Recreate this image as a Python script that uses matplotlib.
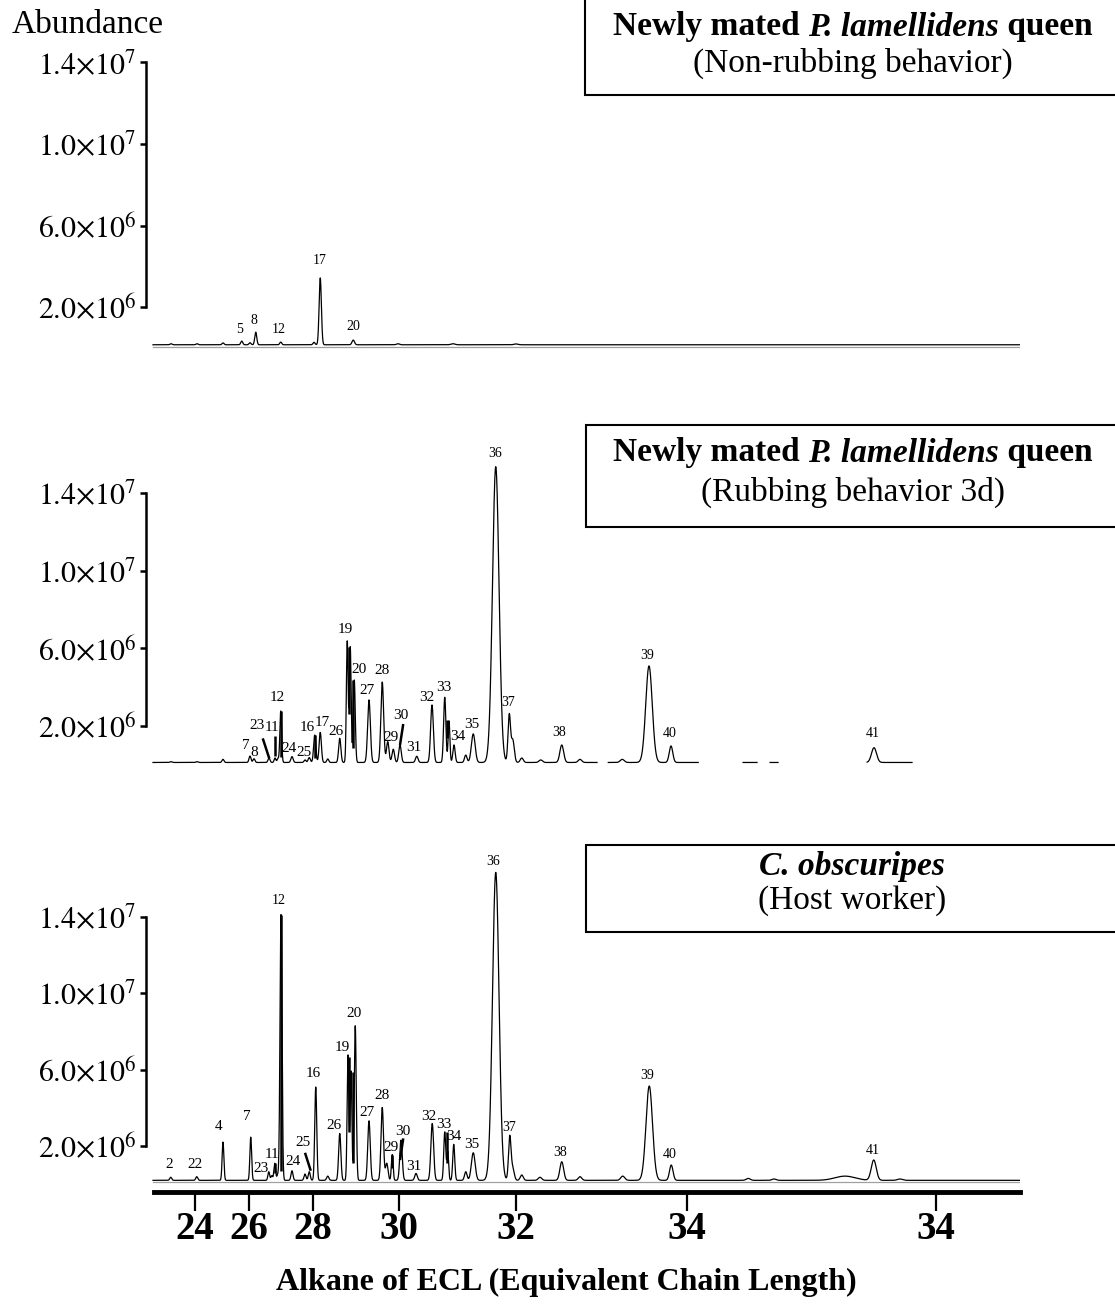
import matplotlib.pyplot as plt
import numpy as np
from matplotlib.patches import Rectangle

plt.rcParams["font.family"] = ["Liberation Serif", "DejaVu Serif"]
plt.rcParams["mathtext.fontset"] = "stix"

# retention position (arbitrary min) and apex abundance (x1e6) of each peak
top_rt = [6.84, 7.88, 8.92, 9.67, 10.0, 10.23, 11.23, 12.56, 12.81, 14.13, 15.92, 18.12, 20.64]
top_abund = [0.2, 0.2, 0.24, 0.33, 0.25, 0.77, 0.28, 0.27, 3.43, 0.38, 0.2, 0.2, 0.19]
top_width = [0.04, 0.04, 0.04, 0.04, 0.04, 0.04, 0.04, 0.04, 0.045, 0.05, 0.06, 0.08, 0.08]
top_base = 0.15

mid_rt = [6.84, 7.88, 8.92, 10.0, 10.16, 10.76, 11.0, 11.12, 11.23, 11.68, 12.2, 12.37,
          12.59, 12.81, 13.11, 13.59, 13.89, 14.01, 14.17, 14.76, 15.29, 15.51, 15.73,
          16.0, 16.67, 17.28, 17.79, 17.96, 18.16, 18.63, 18.93, 19.83, 20.37, 20.51,
          20.87, 21.63, 22.47, 23.2, 24.89, 25.96, 26.84, 34.96]
mid_abund = [0.16, 0.16, 0.28, 0.45, 0.31, 0.35, 0.35, 0.32, 2.77, 0.42, 0.25, 0.37,
             1.53, 1.67, 0.3, 1.36, 6.37, 6.07, 4.37, 3.34, 4.26, 1.19, 0.8,
             1.02, 0.44, 3.08, 3.48, 2.26, 1.02, 0.5, 1.59, 15.35, 2.56, 1.28,
             0.35, 0.25, 1.02, 0.28, 0.28, 5.09, 0.97, 0.88]
mid_width = [0.04, 0.04, 0.04, 0.04, 0.04, 0.04, 0.035, 0.035, 0.035, 0.045, 0.04, 0.045,
             0.045, 0.045, 0.04, 0.045, 0.035, 0.035, 0.04, 0.055, 0.055, 0.05, 0.05,
             0.05, 0.05, 0.055, 0.045, 0.035, 0.045, 0.05, 0.075, 0.13, 0.05, 0.06,
             0.06, 0.07, 0.075, 0.07, 0.08, 0.13, 0.07, 0.1]
mid_base = 0.12
mid_segments = [(6.12, 23.88), (24.33, 27.93), (29.72, 30.28), (30.8, 31.12), (34.68, 36.48)]

host_rt = [6.83, 7.87, 8.92, 10.03, 10.75, 10.87, 10.99, 11.11, 11.24, 11.68, 12.2, 12.37,
           12.63, 13.11, 13.59, 13.92, 14.04, 14.21, 14.76, 15.29, 15.47, 15.69, 16.04,
           16.64, 17.29, 17.79, 17.91, 18.15, 18.63, 18.93, 19.83, 20.39, 20.51, 20.87,
           21.6, 22.47, 23.2, 24.91, 25.97, 26.85, 29.93, 30.96, 33.8, 34.95, 36.0]
host_abund = [0.37, 0.4, 2.21, 2.47, 0.66, 0.45, 1.1, 0.5, 14.1, 0.71, 0.54, 0.66,
              5.09, 0.43, 2.66, 6.75, 5.91, 8.3, 3.32, 4.02, 1.1, 1.56, 2.31,
              0.57, 3.18, 2.74, 1.7, 2.09, 0.66, 1.65, 16.31, 2.48, 0.83, 0.49,
              0.37, 1.18, 0.4, 0.43, 5.14, 1.01, 0.31, 0.28, 0.43, 1.27, 0.28]
host_width = [0.04, 0.04, 0.035, 0.035, 0.035, 0.035, 0.035, 0.035, 0.04, 0.04, 0.04, 0.04,
              0.04, 0.045, 0.045, 0.035, 0.035, 0.04, 0.05, 0.05, 0.05, 0.035, 0.05,
              0.05, 0.055, 0.04, 0.035, 0.04, 0.05, 0.075, 0.13, 0.05, 0.06, 0.06,
              0.07, 0.075, 0.07, 0.08, 0.13, 0.07, 0.08, 0.08, 0.4, 0.1, 0.1]
host_base = 0.21

# peak labels: (text, rt, abundance, fontsize)
top_labels = [("5", 9.57, 0.91, 10), ("8", 10.17, 1.36, 10), ("12", 11.13, 0.92, 10),
              ("17", 12.77, 4.27, 10), ("20", 14.13, 1.07, 10)]
mid_labels = [("7", 9.83, 0.97, 11), ("8", 10.17, 0.61, 11), ("23", 10.27, 2.0, 11),
              ("11", 10.88, 1.93, 11), ("12", 11.11, 3.48, 11), ("24", 11.57, 0.85, 11),
              ("25", 12.15, 0.62, 11), ("16", 12.28, 1.93, 11), ("17", 12.89, 2.19, 11),
              ("26", 13.44, 1.7, 11), ("19", 13.8, 6.94, 11), ("20", 14.36, 4.92, 11),
              ("27", 14.69, 3.8, 11), ("28", 15.29, 4.85, 11), ("29", 15.64, 1.42, 11),
              ("30", 16.04, 2.56, 11), ("31", 16.57, 0.9, 11), ("32", 17.07, 3.48, 11),
              ("33", 17.77, 3.97, 11), ("34", 18.33, 1.45, 11), ("35", 18.89, 2.05, 11),
              ("36", 19.8, 16.0, 10), ("37", 20.33, 3.2, 10), ("38", 22.37, 1.65, 10),
              ("39", 25.87, 5.65, 10), ("40", 26.8, 1.62, 10), ("41", 34.91, 1.62, 10)]
host_labels = [("2", 6.77, 1.06, 11), ("22", 7.8, 1.06, 11), ("4", 8.73, 3.0, 11),
               ("7", 9.87, 3.56, 11), ("23", 10.43, 0.83, 11), ("11", 10.89, 1.56, 11),
               ("12", 11.16, 14.83, 10), ("24", 11.71, 1.22, 11), ("25", 12.11, 2.19, 11),
               ("16", 12.53, 5.79, 11), ("26", 13.36, 3.08, 11), ("19", 13.71, 7.15, 11),
               ("20", 14.16, 8.93, 11), ("27", 14.69, 3.74, 11), ("28", 15.29, 4.66, 11),
               ("29", 15.63, 1.93, 11), ("30", 16.13, 2.78, 11), ("31", 16.57, 0.95, 11),
               ("32", 17.15, 3.56, 11), ("33", 17.76, 3.13, 11), ("34", 18.16, 2.48, 11),
               ("35", 18.89, 2.09, 11), ("36", 19.73, 16.88, 10), ("37", 20.37, 2.97, 10),
               ("38", 22.4, 1.67, 10), ("39", 25.88, 5.7, 10), ("40", 26.8, 1.58, 10),
               ("41", 34.91, 1.75, 10)]

# thick marker lines: (rt0, ab0, rt1, ab1)
mid_leaders = [(10.51, 1.36, 10.77, 0.33), (11.0, 1.48, 11.0, 0.45), (11.23, 2.77, 11.23, 0.4),
               (12.59, 1.53, 12.59, 0.35), (13.96, 6.08, 13.96, 2.6), (14.11, 4.37, 14.11, 0.88),
               (16.13, 2.1, 16.0, 1.02), (17.87, 2.31, 17.87, 1.36)]
host_leaders = [(12.2, 1.65, 12.43, 0.71), (13.97, 6.66, 13.97, 2.74), (14.11, 5.87, 14.11, 1.1),
                (15.69, 1.56, 15.69, 0.83), (16.13, 2.4, 16.0, 1.27), (17.87, 2.74, 17.87, 1.1),
                (10.99, 1.1, 10.99, 0.59), (11.24, 14.1, 11.24, 0.7)]

ytick_vals = [2, 6, 10, 14]
ytick_text = [r"$2.0{\times}10^{6}$", r"$6.0{\times}10^{6}$",
              r"$1.0{\times}10^{7}$", r"$1.4{\times}10^{7}$"]
ecl_pos = [7.8, 9.96, 12.52, 15.94, 20.64, 27.48, 37.44]
ecl_text = ["24", "26", "28", "30", "32", "34", "34"]

W, H = 1115, 1306
RT0, RT1 = 6.12, 40.8
grid = np.arange(RT0, RT1, 0.004)


def trace(rt, ab, wd, base):
    y = np.full_like(grid, base)
    for r, a, w in zip(rt, ab, wd):
        y += (a - base) * np.exp(-0.5 * ((grid - r) / w) ** 2)
    return y


def px_axes(fig, top, bottom, left=146, right=1020):
    return fig.add_axes([left / W, 1 - bottom / H, (right - left) / W, (bottom - top) / H])


fig = plt.figure(figsize=(W / 100, H / 100), dpi=100)

panels = [
    (top_rt, top_abund, top_width, top_base, top_labels, [], None, 40, 352, (-0.205, 15.1), 0.05),
    (mid_rt, mid_abund, mid_width, mid_base, mid_labels, mid_leaders, mid_segments, 420, 770, (-0.268, 17.75), None),
    (host_rt, host_abund, host_width, host_base, host_labels, host_leaders, None, 840, 1192, (-0.40, 18.0), 0.12),
]

axes = []
for rt, ab, wd, base, labels, leaders, segs, top, bottom, ylim, ref in panels:
    ax = px_axes(fig, top, bottom)
    y = trace(rt, ab, wd, base)
    if segs:
        keep = np.zeros_like(grid, dtype=bool)
        for s0, s1 in segs:
            keep |= (grid >= s0) & (grid <= s1)
        y = np.where(keep, y, np.nan)
    if ref is not None:
        ax.plot([RT0, RT1], [ref, ref], color="#a0a0a0", lw=0.9)
    ax.plot(grid, y, color="black", lw=0.9)
    for x0, y0, x1, y1 in leaders:
        ax.plot([x0, x1], [y0, y1], color="black", lw=1.8, solid_capstyle="butt")
    for txt, x, yv, fs in labels:
        ax.text(x, yv, txt, fontsize=fs, ha="center", va="center")
    ax.set_xlim(5.84, RT1)
    ax.set_ylim(*ylim)
    for side in ["top", "right", "bottom"]:
        ax.spines[side].set_visible(False)
    ax.spines["left"].set_linewidth(1.8)
    ax.spines["left"].set_bounds(2, 14)
    ax.set_yticks(ytick_vals)
    ax.set_yticklabels(ytick_text, fontsize=21.5)
    ax.tick_params(axis="y", length=4, width=1.8, pad=3)
    ax.set_xticks([])
    ax.patch.set_alpha(0)
    axes.append(ax)

ax = axes[-1]
ax.spines["bottom"].set_visible(True)
ax.spines["bottom"].set_linewidth(3.5)
ax.spines["bottom"].set_bounds(6.16, RT1)
ax.set_xticks(ecl_pos)
ax.set_xticklabels(ecl_text, fontsize=28, fontweight="bold")
ax.tick_params(axis="x", length=14, width=1.6, pad=0)

fig.text(88 / W, 1 - 25 / H, "Abundance", fontsize=24, ha="center", va="center")
fig.text(566 / W, 1 - 1282 / H, "Alkane of ECL (Equivalent Chain Length)",
         fontsize=23, fontweight="bold", ha="center", va="center")

# sample boxes
boxes = [(585, -10, 95), (586, 425, 527), (586, 845, 932)]
for left, top, bottom in boxes:
    fig.add_artist(Rectangle((left / W, 1 - bottom / H), (1130 - left) / W, (bottom - top) / H,
                             transform=fig.transFigure, facecolor="white",
                             edgecolor="black", lw=1.5, zorder=5, clip_on=False))

renderer = fig.canvas.get_renderer()


def rich_line(runs, cx, cy, size):
    texts = [fig.text(0, 0, s, fontsize=size, fontweight=wt, fontstyle=st,
                      ha="left", va="center", zorder=6) for s, wt, st in runs]
    widths = [t.get_window_extent(renderer).width for t in texts]
    x = cx - sum(widths) / 2
    for t, w in zip(texts, widths):
        t.set_position((x / W, 1 - cy / H))
        x += w


queen = [("Newly mated ", "bold", "normal"), ("P. lamellidens", "bold", "italic"),
         (" queen", "bold", "normal")]
rich_line(queen, 853, 27, 24)
rich_line([("(Non-rubbing behavior)", "normal", "normal")], 853, 63, 24)
rich_line(queen, 853, 453, 24)
rich_line([("(Rubbing behavior 3d)", "normal", "normal")], 853, 492, 24)
rich_line([("C. obscuripes", "bold", "italic")], 852, 866, 24)
rich_line([("(Host worker)", "normal", "normal")], 852, 901, 24)

fig.savefig("out.png", dpi=100)
